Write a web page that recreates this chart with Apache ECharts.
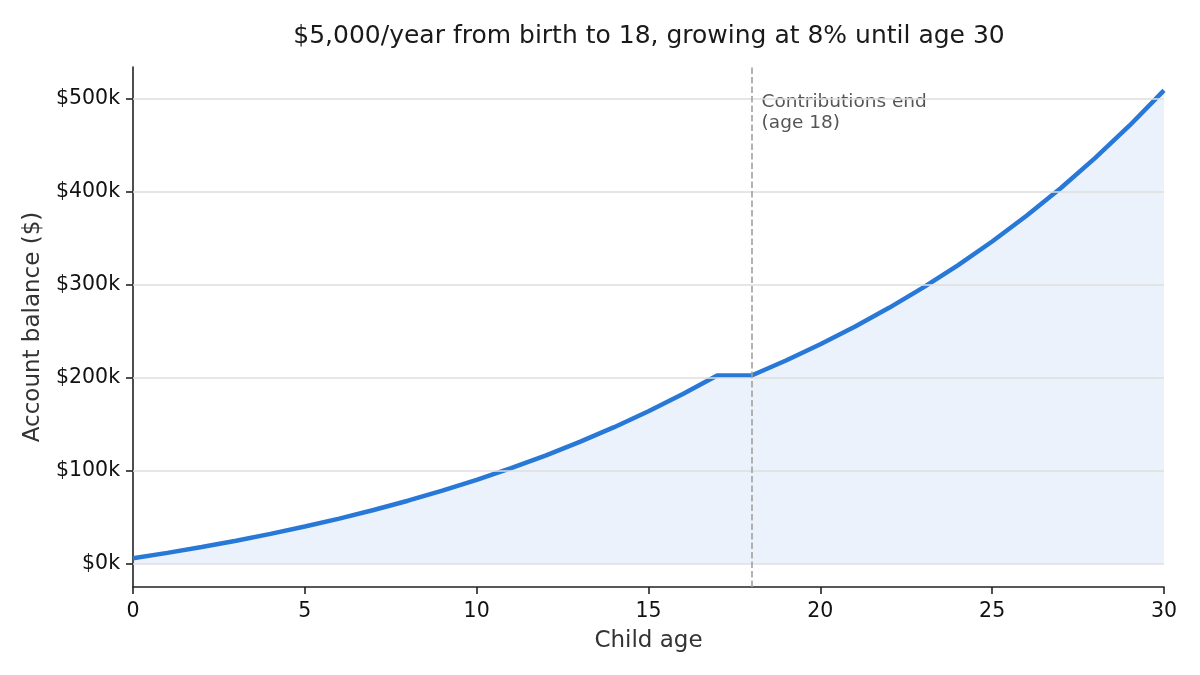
<!DOCTYPE html>
<html>
<head>
<meta charset="utf-8">
<script src="https://cdn.jsdelivr.net/npm/echarts@6/dist/echarts.min.js"></script>
<style>
  html, body { margin: 0; padding: 0; background: #fff; }
  #chart { width: 1200px; height: 675px; }
</style>
</head>
<body>
<div id="chart"></div>
<script>
// child age (years)
const ages = [0, 1, 2, 3, 4, 5, 6, 7, 8, 9, 10, 11, 12, 13, 14, 15, 16, 17, 18, 19, 20, 21, 22, 23, 24, 25, 26, 27, 28, 29, 30]
// account balance ($)
const balances = [
  5400, 11232, 17531, 24333, 31680, 39614, 48183, 57438, 67433, 78227,
  89886, 102476, 116075, 130761, 146621, 163751, 182251, 202231, 202231, 218409,
  235882, 254752, 275132, 297143, 320914, 346587, 374314, 404259, 436600, 471528,
  509250
]
const yTicks = [0, 100000, 200000, 300000, 400000, 500000]
const contributionEndAge = 18
const annotationText = 'Contributions end\n(age 18)'

const FONT = 'DejaVu Sans'
const el = document.getElementById('chart')
const chart = echarts.init(el, null, { renderer: 'canvas' })

const option = {
  animation: false,
  backgroundColor: '#fff',
  title: {
    text: '$5,000/year from birth to 18, growing at 8% until age 30',
    left: 644,
    textAlign: 'center',
    top: 19,
    textStyle: { fontFamily: FONT, fontSize: 25, fontWeight: 'normal', color: '#1a1a1a' }
  },
  grid: { left: 133, right: 36, top: 67, bottom: 88 },
  xAxis: {
    type: 'value',
    min: 0,
    max: 30,
    interval: 5,
    name: 'Child age',
    nameLocation: 'middle',
    nameGap: 43,
    nameTextStyle: { fontFamily: FONT, fontSize: 23, color: '#333' },
    axisLine: { onZero: false, lineStyle: { color: '#222', width: 1.6 } },
    axisTick: { show: true, length: 7, lineStyle: { color: '#222', width: 1.6 } },
    axisLabel: { fontFamily: FONT, fontSize: 20.5, color: '#111', margin: 14 },
    splitLine: { show: false }
  },
  yAxis: {
    type: 'value',
    min: -25500,
    max: 534500,
    name: 'Account balance ($)',
    nameLocation: 'middle',
    nameGap: 88,
    nameTextStyle: { fontFamily: FONT, fontSize: 23, color: '#333' },
    axisLine: { show: true, onZero: false, lineStyle: { color: '#222', width: 1.6 } },
    axisTick: { show: true, length: 7, customValues: yTicks, lineStyle: { color: '#222', width: 1.6 } },
    axisLabel: {
      fontFamily: FONT, fontSize: 20.5, color: '#111', margin: 13,
      padding: [4, 0, 0, 0],
      customValues: yTicks,
      formatter: v => '$' + Math.round(v / 1000) + 'k'
    },
    splitLine: { show: false }
  },
  series: [
    {
      // gridlines sit below the curve
      type: 'line',
      data: [],
      z: 1,
      silent: true,
      markLine: {
        silent: true,
        symbol: 'none',
        label: { show: false },
        lineStyle: { color: '#dedede', width: 1.5, type: 'solid' },
        data: yTicks.map(v => ({ yAxis: v }))
      }
    },
    {
      type: 'line',
      data: ages.map((a, i) => [a, balances[i]]),
      z: 3,
      showSymbol: false,
      smooth: false,
      lineStyle: { color: '#2878d8', width: 4.5 },
      areaStyle: { color: 'rgba(40, 110, 220, 0.13)', origin: 'auto' },
      markLine: {
        silent: true,
        symbol: 'none',
        label: { show: false },
        lineStyle: { color: '#a0a0a0', width: 1.6, type: [6.5, 3] },
        data: [{ xAxis: contributionEndAge }]
      }
    }
  ]
}

chart.setOption(option)

// annotation text placed next to the dashed line
const px = chart.convertToPixel({ xAxisIndex: 0 }, contributionEndAge)
chart.setOption({
  graphic: [{
    type: 'text',
    left: px + 10,
    top: 92,
    style: {
      text: annotationText,
      fontFamily: FONT,
      fontSize: 18.5,
      lineHeight: 21,
      fill: '#555'
    }
  }]
})
</script>
</body>
</html>
